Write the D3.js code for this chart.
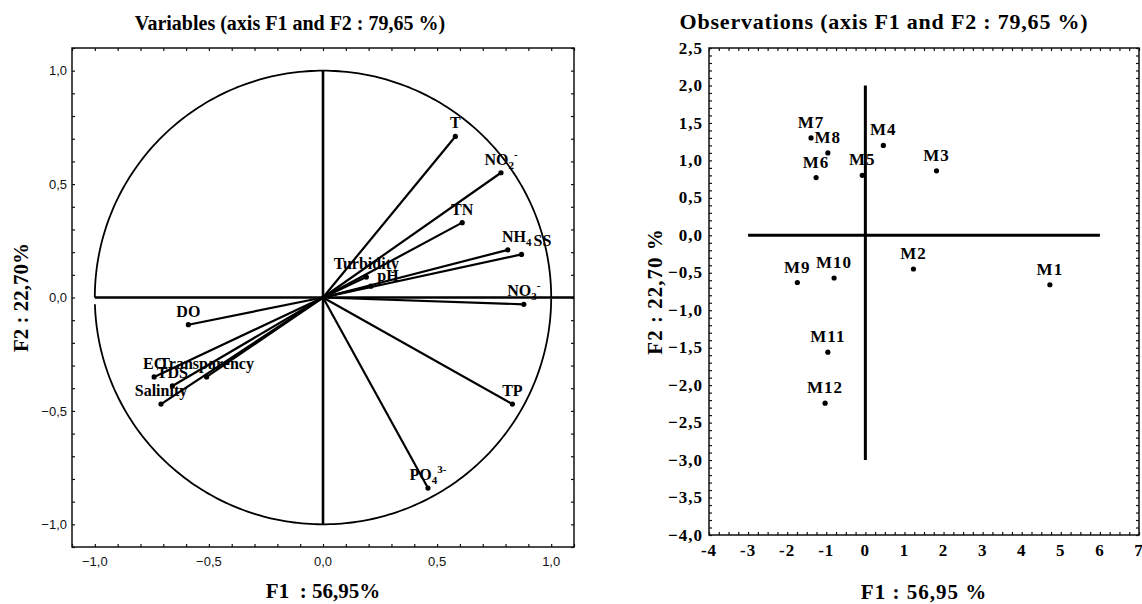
<!DOCTYPE html>
<html>
<head>
<meta charset="utf-8">
<script src="https://cdn.jsdelivr.net/npm/d3@7"></script>
<style>
  body { margin: 0; background: #fff; }
  svg text { font-family: "Liberation Serif", "Times New Roman", serif; font-weight: bold; fill: #000; }
  svg text.num { font-family: "Liberation Sans", Arial, sans-serif; font-weight: normal; fill: #111; }
</style>
</head>
<body>
<svg id="chart" width="1142" height="604"></svg>
<script>
// correlation circle: variable loadings on F1 / F2
var varLabels = ["T", "NO_2^-", "TN", "NH_4", "SS", "Turbidity", "pH", "NO_3^-", "DO", "EC", "TDS", "Transparency", "Salinity", "TP", "PO_4^3-"];
var varF1 = [0.58, 0.78, 0.61, 0.81, 0.87, 0.19, 0.21, 0.88, -0.59, -0.74, -0.66, -0.51, -0.71, 0.83, 0.46];
var varF2 = [0.71, 0.55, 0.33, 0.21, 0.19, 0.09, 0.05, -0.03, -0.12, -0.35, -0.39, -0.35, -0.47, -0.47, -0.84];
var varTicks = [-1.0, -0.5, 0.0, 0.5, 1.0];

// observations: months scores on F1 / F2
var obsLabels = ["M1", "M2", "M3", "M4", "M5", "M6", "M7", "M8", "M9", "M10", "M11", "M12"];
var obsF1 = [4.72, 1.23, 1.82, 0.46, -0.08, -1.26, -1.39, -0.96, -1.74, -0.80, -0.96, -1.03];
var obsF2 = [-0.66, -0.45, 0.86, 1.20, 0.80, 0.77, 1.30, 1.10, -0.63, -0.57, -1.56, -2.24];
var obsXTicks = [-4, -3, -2, -1, 0, 1, 2, 3, 4, 5, 6, 7];
var obsYTicks = [2.5, 2.0, 1.5, 1.0, 0.5, 0.0, -0.5, -1.0, -1.5, -2.0, -2.5, -3.0, -3.5, -4.0];

var svg = d3.select("#chart");
var fmt1 = d3.format(".1f");
function comma(v) { return fmt1(v).replace(".", ","); }

// ---------------- left panel ----------------
var xV = d3.scaleLinear().domain([-1.1, 1.1]).range([72, 574]);
var yV = d3.scaleLinear().domain([-1.1, 1.1]).range([547, 48]);
var gV = svg.append("g");

var minorV = d3.range(-11, 12).map(function(d) { return d / 10; });

function frameTicks(g, xs, ys, xMinor, yMinor, size) {
  g.append("g").attr("transform", "translate(0," + ys.range()[0] + ")")
    .call(d3.axisBottom(xs).tickValues(xMinor).tickSize(-size).tickFormat(""));
  g.append("g").attr("transform", "translate(0," + ys.range()[1] + ")")
    .call(d3.axisTop(xs).tickValues(xMinor).tickSize(-size).tickFormat(""));
  g.append("g").attr("transform", "translate(" + xs.range()[0] + ",0)")
    .call(d3.axisLeft(ys).tickValues(yMinor).tickSize(-size).tickFormat(""));
  g.append("g").attr("transform", "translate(" + xs.range()[1] + ",0)")
    .call(d3.axisRight(ys).tickValues(yMinor).tickSize(-size).tickFormat(""));
  g.selectAll(".domain").remove();
  g.selectAll(".tick line").attr("stroke", "#111").attr("stroke-width", 1.2);
  g.append("rect")
    .attr("x", xs.range()[0]).attr("y", ys.range()[1])
    .attr("width", xs.range()[1] - xs.range()[0])
    .attr("height", ys.range()[0] - ys.range()[1])
    .attr("fill", "none").attr("stroke", "#111").attr("stroke-width", 1.5);
}

frameTicks(gV, xV, yV, minorV, minorV, 3);

// tick labels
gV.selectAll("text.xl").data(varTicks).enter().append("text")
  .attr("class", "num xl")
  .attr("x", function(d) { return xV(d); })
  .attr("y", 566)
  .attr("text-anchor", "middle")
  .attr("font-size", 13)
  .text(comma);

gV.selectAll("text.yl").data(varTicks).enter().append("text")
  .attr("class", "num yl")
  .attr("x", 67)
  .attr("y", function(d) { return yV(d); })
  .attr("dy", "0.36em")
  .attr("text-anchor", "end")
  .attr("font-size", 13)
  .text(comma);

// unit circle (small break on the left just under the horizontal axis)
var circ = d3.line()
  .x(function(a) { return xV(Math.cos(a)); })
  .y(function(a) { return yV(Math.sin(a)); });
var upper = d3.range(0, Math.PI + 0.0001, Math.PI / 180);
var lower = d3.range(Math.PI + 0.03, 2 * Math.PI + 0.0001, Math.PI / 180);
gV.append("path").attr("d", circ(upper)).attr("fill", "none").attr("stroke", "#000").attr("stroke-width", 1.8);
gV.append("path").attr("d", circ(lower)).attr("fill", "none").attr("stroke", "#000").attr("stroke-width", 1.8);

// axes through origin
gV.append("line")
  .attr("x1", xV(-1)).attr("x2", xV(1.1))
  .attr("y1", yV(0)).attr("y2", yV(0))
  .attr("stroke", "#000").attr("stroke-width", 2.6);
gV.append("line")
  .attr("x1", xV(0)).attr("x2", xV(0))
  .attr("y1", yV(1)).attr("y2", yV(-1))
  .attr("stroke", "#000").attr("stroke-width", 2.6);

var idxV = d3.range(varLabels.length);

gV.selectAll("line.vec").data(idxV).enter().append("line")
  .attr("class", "vec")
  .attr("x1", xV(0)).attr("y1", yV(0))
  .attr("x2", function(i) { return xV(varF1[i]); })
  .attr("y2", function(i) { return yV(varF2[i]); })
  .attr("stroke", "#000").attr("stroke-width", 2.2);

gV.selectAll("circle.vec").data(idxV).enter().append("circle")
  .attr("class", "vec")
  .attr("cx", function(i) { return xV(varF1[i]); })
  .attr("cy", function(i) { return yV(varF2[i]); })
  .attr("r", 2.6)
  .attr("fill", "#000");

// labels like NO_2^- -> NO + subscript 2 + superscript -
// a few labels sit shifted in the original to dodge their neighbours
var nudgeX = { "SS": 21, "pH": 17, "NH_4": 9 };
var nudgeY = { "pH": 3 };
idxV.forEach(function(i) {
  var lab = varLabels[i];
  var m = lab.match(/^([^_^]+)(?:_([^^]+))?(?:\^(.+))?$/);
  var t = gV.append("text")
    .attr("x", xV(varF1[i]) + (nudgeX[lab] || 0))
    .attr("y", yV(varF2[i]) - 8 + (nudgeY[lab] || 0))
    .attr("text-anchor", "middle")
    .attr("font-size", 16);
  t.append("tspan").text(m[1]);
  if (m[2]) t.append("tspan").attr("dy", 4).attr("font-size", 11).text(m[2]);
  if (m[3]) t.append("tspan").attr("dy", m[2] ? -11 : -7).attr("font-size", 11).text(m[3]);
});

gV.append("text")
  .attr("x", 290).attr("y", 30)
  .attr("text-anchor", "middle")
  .attr("font-size", 20)
  .text("Variables (axis F1 and F2 : 79,65 %)");

gV.append("text")
  .attr("x", 323).attr("y", 598)
  .attr("text-anchor", "middle")
  .attr("font-size", 21)
  .style("white-space", "pre")
  .text("F1  : 56,95%");

gV.append("text")
  .attr("transform", "translate(28,297.5) rotate(-90)")
  .attr("text-anchor", "middle")
  .attr("font-size", 21)
  .text("F2 : 22,70%");

// ---------------- right panel ----------------
var xO = d3.scaleLinear().domain([-4, 7]).range([709, 1139]);
var yO = d3.scaleLinear().domain([-4, 2.5]).range([535, 48]);
var gO = svg.append("g");

var minorOX = d3.range(-16, 29).map(function(d) { return d / 4; });
var minorOY = d3.range(-40, 26).map(function(d) { return d / 10; });
frameTicks(gO, xO, yO, minorOX, minorOY, 3);

gO.selectAll("text.xl").data(obsXTicks).enter().append("text")
  .attr("x", function(d) { return xO(d); })
  .attr("y", 556)
  .attr("text-anchor", "middle")
  .attr("font-size", 17)
  .style("letter-spacing", "1px")
  .text(function(d) { return d; });

gO.selectAll("text.yl").data(obsYTicks).enter().append("text")
  .attr("x", 703)
  .attr("y", function(d) { return yO(d); })
  .attr("dy", "0.33em")
  .attr("text-anchor", "end")
  .attr("font-size", 17)
  .style("letter-spacing", "1px")
  .text(comma);

gO.append("line")
  .attr("x1", xO(-3)).attr("x2", xO(6))
  .attr("y1", yO(0)).attr("y2", yO(0))
  .attr("stroke", "#000").attr("stroke-width", 3);
gO.append("line")
  .attr("x1", xO(0)).attr("x2", xO(0))
  .attr("y1", yO(2)).attr("y2", yO(-3))
  .attr("stroke", "#000").attr("stroke-width", 3);

var idxO = d3.range(obsLabels.length);

gO.selectAll("circle.obs").data(idxO).enter().append("circle")
  .attr("class", "obs")
  .attr("cx", function(i) { return xO(obsF1[i]); })
  .attr("cy", function(i) { return yO(obsF2[i]); })
  .attr("r", 2.6)
  .attr("fill", "#000");

gO.selectAll("text.obs").data(idxO).enter().append("text")
  .attr("class", "obs")
  .attr("x", function(i) { return xO(obsF1[i]); })
  .attr("y", function(i) { return yO(obsF2[i]) - 10; })
  .attr("text-anchor", "middle")
  .attr("font-size", 17)
  .style("letter-spacing", "1px")
  .text(function(i) { return obsLabels[i]; });

gO.append("text")
  .attr("x", 884).attr("y", 29)
  .attr("text-anchor", "middle")
  .attr("font-size", 22)
  .style("letter-spacing", "0.8px")
  .text("Observations (axis F1 and F2 : 79,65 %)");

gO.append("text")
  .attr("x", 924).attr("y", 599)
  .attr("text-anchor", "middle")
  .attr("font-size", 21)
  .style("letter-spacing", "1px")
  .text("F1 : 56,95 %");

gO.append("text")
  .attr("transform", "translate(662,291.5) rotate(-90)")
  .attr("text-anchor", "middle")
  .attr("font-size", 21)
  .style("letter-spacing", "1px")
  .text("F2 : 22,70 %");
</script>
</body>
</html>
